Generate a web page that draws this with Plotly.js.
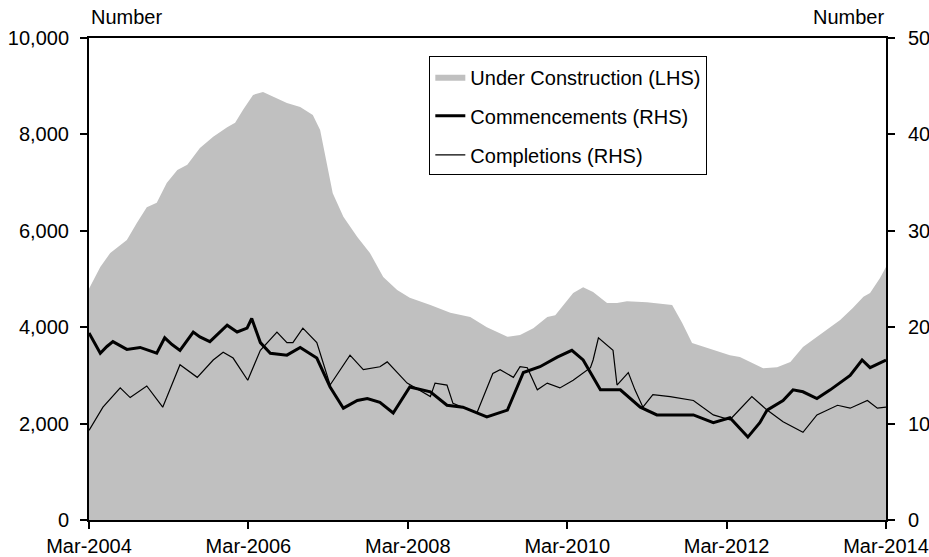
<!DOCTYPE html>
<html>
<head>
<meta charset="utf-8">
<script src="https://cdn.plot.ly/plotly-3.0.1.min.js"></script>
<style>
  html, body { margin: 0; padding: 0; background: #fff; overflow: hidden; }
  #chart { width: 929px; height: 557px; }
</style>
</head>
<body>
<div id="chart"></div>
<script>
// x values are months since Mar-2004
const tickMonths = [0, 24, 48, 72, 96, 120];
const tickLabels = ['Mar-2004', 'Mar-2006', 'Mar-2008', 'Mar-2010', 'Mar-2012', 'Mar-2014'];

const underMonths = [0, 1.7, 3.2, 5.7, 7.2, 8.7, 10.2, 11.7, 13.3, 14.8, 16.7, 18.7, 20.8, 22, 23.2, 24.7, 26.2, 27.7, 29.8, 31.8,
  33.7, 34.8, 35.8, 36.7, 38.3, 40.4, 42.3, 44.3, 46.4, 48.3, 51.4, 54.4, 57.4, 59.9, 63, 64.9, 66.9, 69, 70.2, 71.4,
  72.9, 74.4, 75.9, 78, 79.5, 81, 84, 87.8, 89.3, 90.8, 93, 96.5, 98, 99.5, 101.5, 103.6, 105.6, 107.5, 110.5, 113.1,
  115, 116.6, 117.6, 119.1, 120];
const underValues = [4800, 5250, 5540, 5810, 6160, 6490, 6580, 6990, 7260, 7370, 7720, 7950, 8150, 8240, 8510, 8820, 8880, 8780, 8650, 8570,
  8400, 8090, 7410, 6780, 6290, 5870, 5540, 5040, 4770, 4610, 4460, 4300, 4210, 4000, 3800, 3840, 3980, 4210, 4250, 4460,
  4710, 4830, 4730, 4500, 4500, 4540, 4520, 4460, 4090, 3670, 3570, 3420, 3380, 3280, 3150, 3170, 3280, 3590, 3880, 4150,
  4400, 4630, 4710, 5020, 5250];

const commMonths = [0, 1.7, 2.7, 3.6, 5.7, 7.7, 10.2, 11.4, 12.5, 13.7, 15.7, 16.7, 18.2, 20.8, 22.3, 23.8, 24.5, 25.8, 27.3, 29.8,
  31.8, 34.3, 36.3, 38.3, 40.4, 41.9, 43.8, 45.8, 48.3, 51.4, 53.9, 56.3, 59.9, 63, 65.4, 67.9, 70.5, 72.7, 74.4, 77,
  80, 83, 85.5, 89, 91, 94, 96.5, 99.2, 101, 102.1, 104.5, 106, 107.5, 109.6, 111.6, 114.6, 116.4, 117.6, 120];
const commValues = [194, 173, 180, 185, 177, 179, 173, 189, 182, 176, 195, 190, 185, 202, 195, 199, 209, 184, 173, 171,
  179, 168, 138, 116, 124, 126, 122, 111, 138, 133, 119, 117, 107, 114, 153, 159, 169, 176, 166, 135,
  135, 117, 109, 109, 109, 101, 106, 86, 101, 114, 124, 135, 133, 126, 135, 150, 166, 158, 166];

const complMonths = [0, 2.1, 4.7, 6.2, 8.7, 11.1, 13.7, 16.3, 18.7, 20.2, 21.7, 23.9, 25.8, 28.3, 29.8, 30.7, 32.2, 34.3, 36.3, 39.3,
  41.3, 43.8, 44.9, 47.9, 51.4, 52.1, 53.9, 54.8, 58.4, 60.8, 61.9, 63.9, 64.9, 66, 67.5, 69, 70.9, 72.9, 75.5, 75.9,
  76.7, 78.9, 79.5, 81.2, 82.2, 83.4, 84.9, 87.5, 91, 94, 96.5, 99.8, 102.1, 104.5, 107.5, 109.6, 112.7, 114.6, 117.2, 118.7, 120];
const complValues = [93, 117, 137, 127, 139, 117, 161, 148, 166, 174, 168, 145, 176, 195, 184, 184, 199, 184, 140, 171,
  156, 159, 164, 142, 128, 142, 140, 121, 111, 152, 156, 148, 159, 158, 135, 142, 137, 145, 158, 166,
  189, 176, 140, 153, 135, 117, 130, 128, 124, 109, 104, 128, 114, 102, 91, 109, 119, 116, 124, 116, 117];

const fontFam = '"Liberation Sans", Arial, sans-serif';

const traces = [
  {
    x: underMonths, y: underValues, name: 'Under Construction (LHS)',
    type: 'scatter', mode: 'lines', fill: 'tozeroy', fillcolor: '#c0c0c0',
    line: { width: 0, color: '#c0c0c0' }, legendgroup: 'a'
  },
  {
    x: commMonths, y: commValues, name: 'Commencements (RHS)', yaxis: 'y2',
    type: 'scatter', mode: 'lines', line: { color: '#000', width: 3 }, legendgroup: 'b'
  },
  {
    x: complMonths, y: complValues, name: 'Completions (RHS)', yaxis: 'y2',
    type: 'scatter', mode: 'lines', line: { color: '#000', width: 1.2 }, legendgroup: 'c'
  }
];

const layout = {
  width: 929, height: 557,
  margin: { l: 89, r: 43, t: 38, b: 37 },
  paper_bgcolor: '#fff', plot_bgcolor: '#fff',
  font: { family: fontFam, size: 20, color: '#000' },
  showlegend: true,
  legend: {
    x: 0.427, y: 0.962, xanchor: 'left', yanchor: 'top',
    bordercolor: '#000', borderwidth: 1, bgcolor: '#fff',
    font: { size: 20 }, traceorder: 'grouped', tracegroupgap: 10
  },
  xaxis: {
    range: [0, 120], tickvals: tickMonths, ticktext: tickLabels,
    showline: true, linecolor: '#000', linewidth: 2, mirror: true,
    ticks: 'outside', ticklen: 7, tickwidth: 2, tickcolor: '#000',
    showgrid: false, zeroline: false
  },
  yaxis: {
    range: [0, 10000], dtick: 2000, tickformat: ',d',
    showline: true, linecolor: '#000', linewidth: 2,
    ticks: 'outside', ticklen: 7, tickwidth: 2, tickcolor: '#000',
    ticklabelstandoff: 7,
    showgrid: false, zeroline: false
  },
  yaxis2: {
    range: [0, 500], dtick: 100, overlaying: 'y', side: 'right',
    showline: true, linecolor: '#000', linewidth: 2,
    ticks: 'outside', ticklen: 7, tickwidth: 2, tickcolor: '#000',
    ticklabelstandoff: 9,
    showgrid: false, zeroline: false
  },
  annotations: [
    { text: 'Number', xref: 'paper', yref: 'paper', x: 0, y: 1, xanchor: 'left', yanchor: 'bottom', yshift: 8, showarrow: false, font: { size: 20 } },
    { text: 'Number', xref: 'paper', yref: 'paper', x: 1, y: 1, xanchor: 'right', yanchor: 'bottom', yshift: 8, showarrow: false, font: { size: 20 } }
  ]
};

Plotly.newPlot('chart', traces, layout, { displayModeBar: false, staticPlot: true });
</script>
</body>
</html>
